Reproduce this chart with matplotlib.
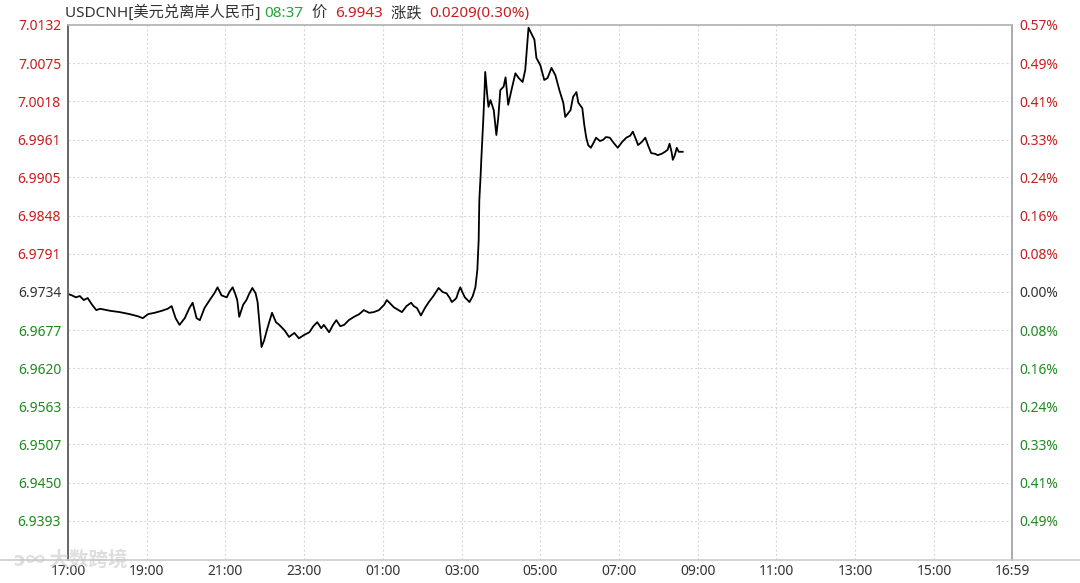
import numpy as np
import matplotlib
matplotlib.use('Agg')
import matplotlib.pyplot as plt
from matplotlib.lines import Line2D

plt.rcParams['font.family'] = ['Noto Sans', 'Noto Sans CJK SC', 'DejaVu Sans']

# minutes since 17:00 and USDCNH price
minutes = [0, 6, 12, 18, 24, 30, 36, 43, 49, 64, 79, 94, 106, 114, 122, 132, 143, 152, 158, 164,
           170, 178, 185, 190, 196, 201, 208, 216, 223, 228, 234, 242, 246, 251, 255, 258, 261, 267,
           272, 276, 281, 286, 289, 292, 295, 299, 304, 311, 317, 322, 330, 337, 345, 352, 360, 368,
           374, 380, 386, 390, 398, 404, 409, 415, 421, 428, 436, 444, 451, 459, 466, 474, 482, 486,
           492, 497, 504, 509, 516, 523, 527, 532, 538, 544, 550, 557, 565, 571, 577, 582, 585, 589,
           592, 595, 598, 602, 605, 609, 612, 617, 621, 624, 626, 627, 629, 630, 633, 635, 636, 639,
           641, 644, 649, 653, 656, 659, 664, 667, 671, 676, 682, 687, 693, 697, 700, 702, 706, 711,
           714, 720, 726, 731, 737, 743, 749, 755, 758, 766, 770, 775, 778, 784, 787, 790, 793, 797,
           802, 805, 811, 816, 820, 826, 832, 838, 845, 851, 857, 861, 866, 869, 875, 880, 884, 889,
           895, 899, 905, 910, 914, 917, 920, 922, 925, 928, 931, 937]
prices = [6.9731, 6.9729, 6.9726, 6.9728, 6.9722, 6.9725, 6.9716, 6.9707, 6.9709, 6.9706, 6.9704,
          6.9701, 6.9698, 6.9695, 6.9701, 6.9703, 6.9706, 6.9709, 6.9713, 6.9695, 6.9685, 6.9695,
          6.9710, 6.9718, 6.9695, 6.9692, 6.9710, 6.9722, 6.9732, 6.9741, 6.9729, 6.9726, 6.9734,
          6.9741, 6.9731, 6.9722, 6.9697, 6.9715, 6.9722, 6.9731, 6.9740, 6.9732, 6.9719, 6.9685,
          6.9652, 6.9662, 6.9680, 6.9703, 6.9689, 6.9685, 6.9677, 6.9667, 6.9673, 6.9665, 6.9670,
          6.9674, 6.9683, 6.9689, 6.9680, 6.9685, 6.9674, 6.9685, 6.9692, 6.9683, 6.9685, 6.9692,
          6.9697, 6.9701, 6.9707, 6.9703, 6.9704, 6.9707, 6.9715, 6.9722, 6.9716, 6.9711, 6.9707,
          6.9704, 6.9713, 6.9718, 6.9713, 6.9710, 6.9699, 6.9710, 6.9719, 6.9728, 6.9740, 6.9734,
          6.9732, 6.9725, 6.9719, 6.9722, 6.9725, 6.9734, 6.9741, 6.9732, 6.9726, 6.9722, 6.9719,
          6.9728, 6.9741, 6.9767, 6.9811, 6.9871, 6.9908, 6.9931, 6.9990, 7.0035, 7.0062, 7.0028,
          7.0010, 7.0020, 7.0005, 6.9968, 6.9995, 7.0035, 7.0040, 7.0054, 7.0013, 7.0035, 7.0060,
          7.0053, 7.0047, 7.0065, 7.0102, 7.0128, 7.0120, 7.0110, 7.0083, 7.0072, 7.0050, 7.0053,
          7.0068, 7.0057, 7.0035, 7.0016, 6.9995, 7.0005, 7.0025, 7.0032, 7.0016, 7.0008, 6.9983,
          6.9964, 6.9953, 6.9949, 6.9958, 6.9964, 6.9959, 6.9961, 6.9965, 6.9964, 6.9956, 6.9949,
          6.9958, 6.9964, 6.9967, 6.9973, 6.9961, 6.9953, 6.9958, 6.9964, 6.9953, 6.9941, 6.9940,
          6.9938, 6.9940, 6.9943, 6.9946, 6.9955, 6.9943, 6.9931, 6.9938, 6.9949, 6.9943, 6.9943]

prev_close = 6.9734
y_ticks = [7.0132, 7.0075, 7.0018, 6.9961, 6.9905, 6.9848, 6.9791, 6.9734,
           6.9677, 6.9620, 6.9563, 6.9507, 6.9450, 6.9393]
pct_labels = ['0.57%', '0.49%', '0.41%', '0.33%', '0.24%', '0.16%', '0.08%', '0.00%',
              '0.08%', '0.16%', '0.24%', '0.33%', '0.41%', '0.49%']
x_ticks = [0, 120, 240, 360, 480, 600, 720, 840, 960, 1080, 1200, 1320, 1439]
x_labels = ['17:00', '19:00', '21:00', '23:00', '01:00', '03:00', '05:00', '07:00',
            '09:00', '11:00', '13:00', '15:00', '16:59']

RED = '#c81e1e'
GREEN = '#1f8a1f'
GREY = '#333333'

fig = plt.figure(figsize=(10.8, 5.83), dpi=100)
ax = fig.add_axes([68/1080, 1-560/583, (1012-68)/1080, (560-25)/583])

ax.plot(minutes, prices, color='black', lw=1.3)
ax.set_xlim(0, 1439)
ax.set_ylim(6.93345, 7.0132)

ax.set_yticks(y_ticks)
ax.set_yticklabels(['%.4f' % v for v in y_ticks], fontsize=10)
ax.set_xticks(x_ticks)
ax.set_xticklabels(x_labels, fontsize=10, color=GREY)
ax.tick_params(axis='both', length=0)
ax.tick_params(axis='y', pad=5)
ax.tick_params(axis='x', pad=3)
for lab, v in zip(ax.get_yticklabels(), y_ticks):
    lab.set_color(RED if v > prev_close else (GREEN if v < prev_close else GREY))

ax.grid(True, color='#d8d8d8', ls=(0, (2, 2)), lw=0.8)

ax2 = ax.twinx()
ax2.set_ylim(ax.get_ylim())
ax2.set_yticks(y_ticks)
ax2.set_yticklabels(pct_labels, fontsize=10)
ax2.tick_params(axis='y', length=0, pad=5)
for lab, v in zip(ax2.get_yticklabels(), y_ticks):
    lab.set_color(RED if v > prev_close else (GREEN if v < prev_close else GREY))

for a in (ax, ax2):
    a.spines['left'].set_color('#666666')
    a.spines['right'].set_color('#aaaaaa')
    a.spines['top'].set_color('#bbbbbb')
    a.spines['bottom'].set_visible(False)
    for s in a.spines.values():
        s.set_linewidth(1.2)

# full-width bottom rule
fig.add_artist(Line2D([0, 1], [1-560/583, 1-560/583], transform=fig.transFigure,
                      color='#cccccc', lw=1.2))

# header text in colored pieces
pieces = [('USDCNH[美元兑离岸人民币] ', GREY), ('08:37', '#23a33a'), ('  价  ', GREY),
          ('6.9943', RED), ('  涨跌  ', GREY), ('0.0209(0.30%)', RED)]
prev = fig.text(65/1080, 1-13/583, pieces[0][0], color=pieces[0][1], fontsize=11, va='center')
for txt, col in pieces[1:]:
    prev = ax.annotate(txt, xy=(1, 0), xycoords=prev, va='bottom', ha='left',
                       color=col, fontsize=11, annotation_clip=False)

# watermark
fig.text(14/1080, 1-560/583, 'ↄ∞ 大数跨境', color='#c4c4c4', alpha=0.55, fontsize=14,
         va='center', fontweight='bold', family=['Noto Sans CJK SC', 'DejaVu Sans'])

fig.savefig('out.png', dpi=100)
